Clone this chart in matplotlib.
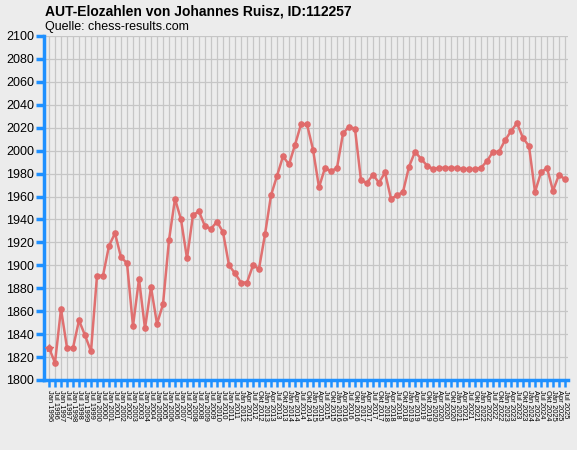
import matplotlib
matplotlib.use('Agg')
import matplotlib.pyplot as plt

# rating lists: half-yearly until 2011, quarterly from 2012
months_half = ['Jan', 'Jul']
months_quarter = ['Jan', 'Apr', 'Jul', 'Okt']
labels = [f'{m} {y}' for y in range(1996, 2012) for m in months_half]
labels += [f'{m} {y}' for y in range(2012, 2026) for m in months_quarter][:55]

elo = [1828, 1815, 1862, 1828, 1828, 1852, 1839, 1825, 1891, 1891,
       1917, 1928, 1907, 1902, 1847, 1888, 1845, 1881, 1849, 1866,
       1922, 1958, 1940, 1906, 1944, 1947, 1934, 1932, 1938, 1929,
       1900, 1893, 1885, 1885, 1900, 1897, 1927, 1961, 1978, 1995,
       1988, 2005, 2023, 2023, 2001, 1968, 1985, 1982, 1985, 2015,
       2021, 2019, 1974, 1972, 1979, 1972, 1981, 1958, 1961, 1964,
       1986, 1999, 1993, 1987, 1984, 1985, 1985, 1985, 1985, 1984,
       1984, 1984, 1985, 1991, 1999, 1999, 2009, 2017, 2024, 2011,
       2004, 1964, 1981, 1985, 1965, 1979, 1975]

title = 'AUT-Elozahlen von Johannes Ruisz, ID:112257'
subtitle = 'Quelle: chess-results.com'

plt.rcParams['font.family'] = ['Liberation Sans', 'DejaVu Sans']
bg = '#ececec'
blue = '#1e90ff'
red = '#e06a6a'

fig = plt.figure(figsize=(5.77, 4.5), dpi=100, facecolor=bg)
ax = fig.add_axes([44/577, 1-380/450, (568-44)/577, (380-36)/450], facecolor=bg)

x = list(range(len(elo)))
ax.plot(x, elo, color=red, lw=1.8, marker='o', ms=3.8, alpha=0.95, zorder=3)
ax.plot(x[:1], elo[:1], color=red, ls='none', marker='*', ms=6, zorder=4)

ax.set_ylim(1800, 2100)
ax.set_xlim(-5/6, 86.5)
ax.set_yticks(range(1800, 2101, 20))
ax.set_xticks(x)
ax.set_xticklabels(labels, rotation=-90, fontsize=5.4, va='top', ha='center')
ax.tick_params(axis='y', colors=blue, length=6, width=2.5, labelsize=9, labelcolor='black', pad=1)
ax.tick_params(axis='x', colors=blue, length=5, width=1.8, labelcolor='black', pad=2)
ax.grid(True, color='#c6c6c6', lw=0.9, zorder=0)
ax.set_axisbelow(True)
for s in ['top', 'right']:
    ax.spines[s].set_visible(False)
for s in ['left', 'bottom']:
    ax.spines[s].set_color(blue)
    ax.spines[s].set_linewidth(2.5)

fig.text(45/577, 1-12/450, title, fontsize=10, fontweight='bold', va='center', ha='left')
fig.text(45/577, 1-27/450, subtitle, fontsize=9, va='center', ha='left')

fig.savefig('out.png', dpi=100, facecolor=bg)
